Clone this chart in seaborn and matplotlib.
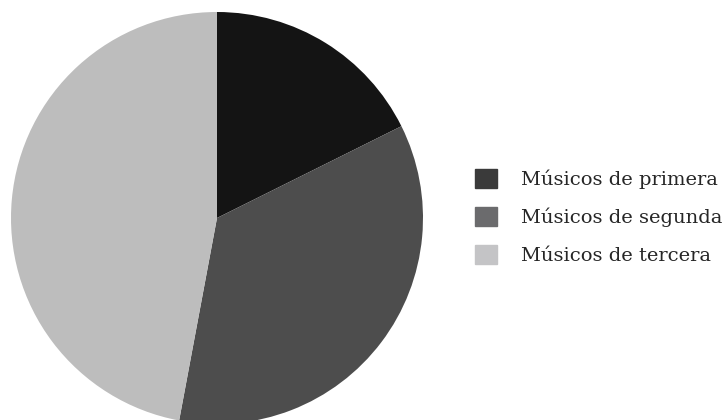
import matplotlib
matplotlib.use("Agg")
import matplotlib.pyplot as plt
import matplotlib.patches as mpatches
import seaborn as sns

# -------------------------------------------------
# Data
# -------------------------------------------------

categories = ["Músicos de primera", "Músicos de segunda", "Músicos de tercera"]
shares = [3, 6, 8]

pie_colors = ["#141414", "#4d4d4d", "#bdbdbd"]
legend_colors = ["#3a3a3a", "#6b6b6d", "#c4c4c6"]

# -------------------------------------------------
# Plot
# -------------------------------------------------

sns.set_theme(style="white")
plt.rcParams["font.family"] = ["DejaVu Serif", "Liberation Serif"]

fig = plt.figure(figsize=(7.23, 4.2), dpi=100)
ax = fig.add_axes([11 / 723, -4 / 420, 412 / 723, 412 / 420])

ax.pie(
    shares,
    colors=pie_colors,
    startangle=90,
    counterclock=False,
    radius=1,
    wedgeprops={"linewidth": 0},
)
ax.set_xlim(-1, 1)
ax.set_ylim(-1, 1)
ax.set_aspect("equal")
ax.axis("off")

handles = [mpatches.Patch(color=c, label=l) for c, l in zip(legend_colors, categories)]

fs = 14
fs_px = fs * 100 / 72
fig.legend(
    handles=handles,
    loc="upper left",
    bbox_to_anchor=(475 / 723, 1 - 169 / 420),
    frameon=False,
    fontsize=fs,
    handlelength=22 / fs_px,
    handleheight=22 / fs_px,
    handletextpad=24 / fs_px,
    labelspacing=(37.5 - fs_px) / fs_px,
    borderpad=0,
    borderaxespad=0,
)

fig.savefig("out.png", dpi=100)
